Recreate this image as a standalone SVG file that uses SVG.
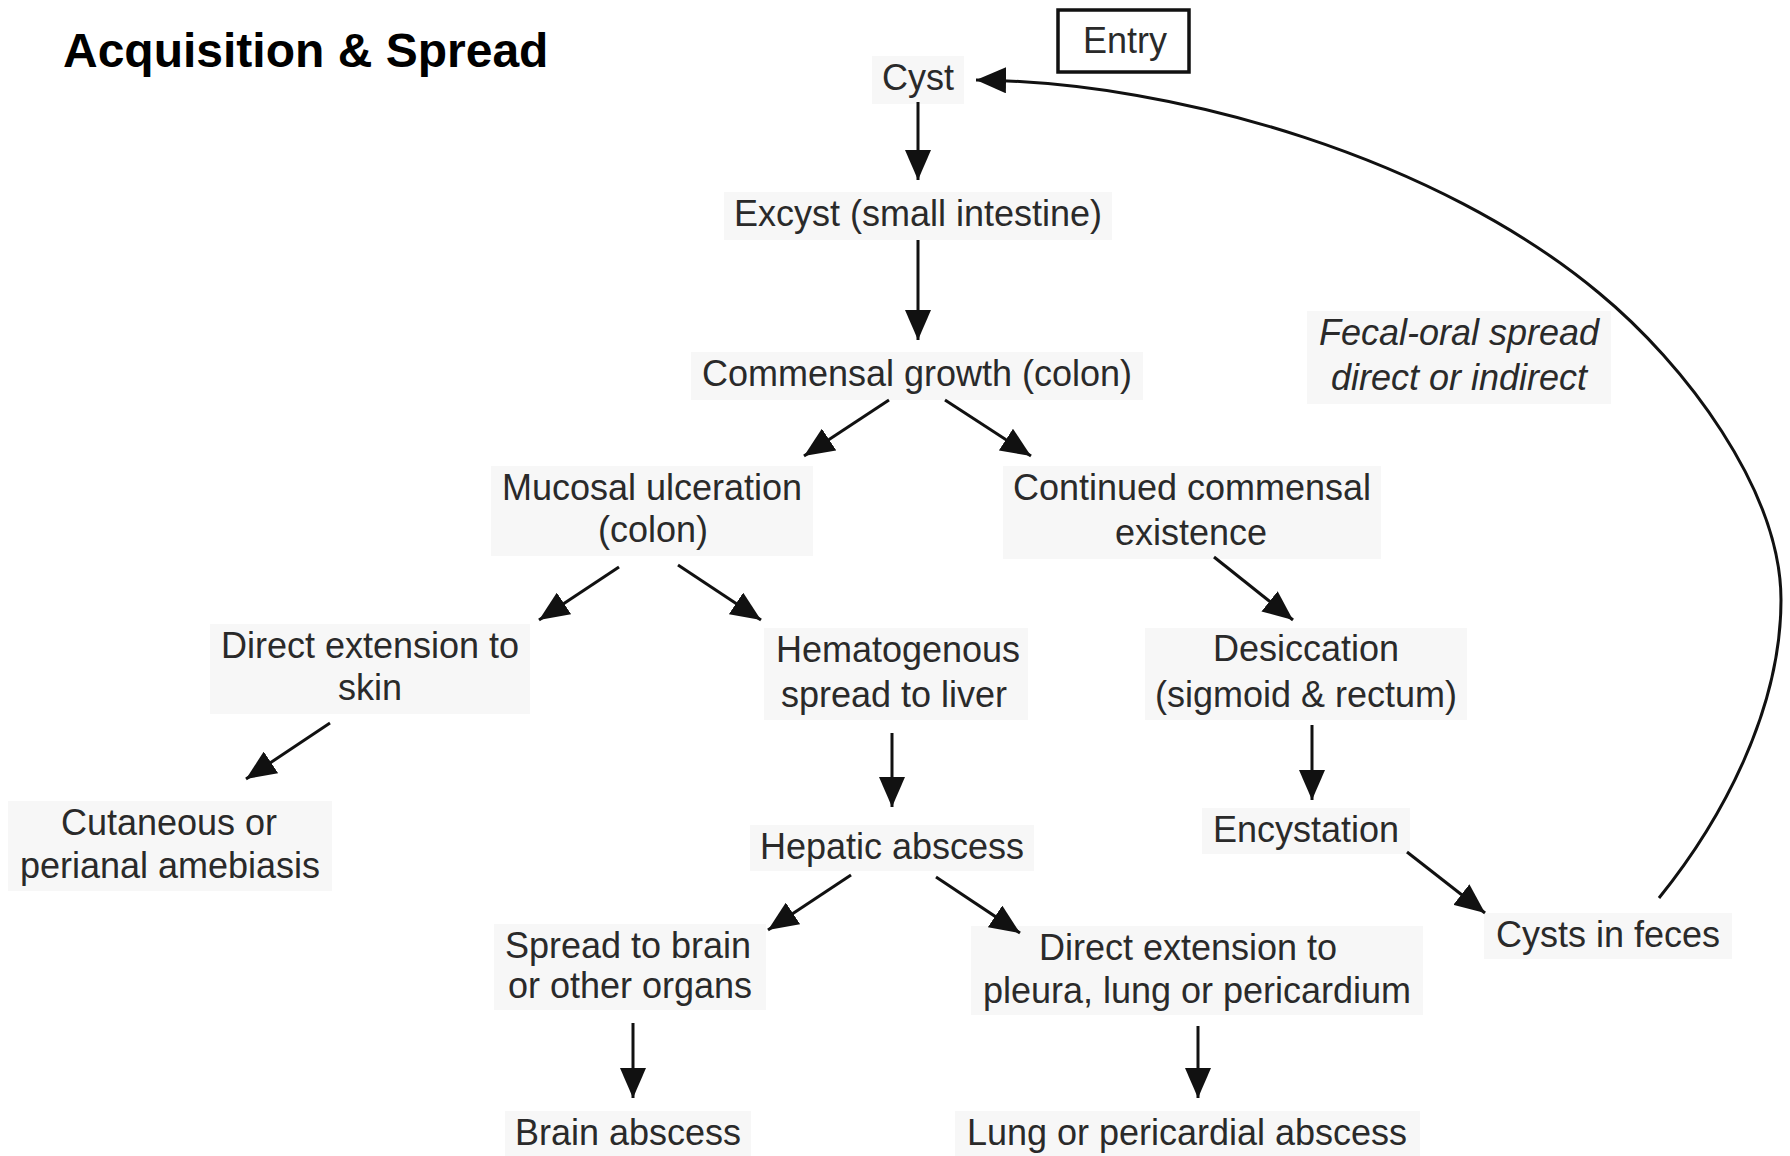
<svg xmlns="http://www.w3.org/2000/svg" width="1790" height="1156" viewBox="0 0 1790 1156">
<style>
  .t { font-family: "Liberation Sans", Arial, sans-serif; font-size: 36px; fill: #2a2a2a; text-anchor: middle; }
  .it { font-style: italic; }
  .halo { fill: #f7f7f7; }
  .ln { stroke: #111; stroke-width: 3; fill: none; marker-end: url(#ah); }
  .title { font-family: "Liberation Sans", Arial, sans-serif; font-size: 48px; font-weight: bold; fill: #000; }
</style>
<defs>
  <marker id="ah" markerUnits="userSpaceOnUse" markerWidth="30" markerHeight="26" viewBox="0 0 30 26" refX="30" refY="13" orient="auto">
    <path d="M0,0 L30,13 L0,26 z" fill="#111"/>
  </marker>
</defs>
<rect width="1790" height="1156" fill="#fff"/>

<text class="title" x="63" y="67">Acquisition &amp; Spread</text>

<g id="entry">
  <rect x="1058" y="10" width="131" height="62" fill="#fff" stroke="#111" stroke-width="3.5"/>
  <text class="t" x="1125" y="53">Entry</text>
</g>
<g id="cyst">
  <rect class="halo" x="872" y="56" width="92" height="48"/>
  <text class="t" x="918" y="90">Cyst</text>
</g>
<g id="excyst">
  <rect class="halo" x="724" y="192" width="388" height="48"/>
  <text class="t" x="918" y="226">Excyst (small intestine)</text>
</g>
<g id="commensal">
  <rect class="halo" x="691" y="352" width="452" height="48"/>
  <text class="t" x="917" y="386">Commensal growth (colon)</text>
</g>
<g id="mucosal">
  <rect class="halo" x="491" y="466" width="322" height="90"/>
  <text class="t" x="652" y="500">Mucosal ulceration</text>
  <text class="t" x="653" y="542">(colon)</text>
</g>
<g id="continued">
  <rect class="halo" x="1003" y="466" width="378" height="93"/>
  <text class="t" x="1192" y="500">Continued commensal</text>
  <text class="t" x="1191" y="545">existence</text>
</g>
<g id="fecal-oral-label">
  <rect class="halo" x="1307" y="311" width="304" height="93"/>
  <text class="t it" x="1459" y="345">Fecal-oral spread</text>
  <text class="t it" x="1459" y="390">direct or indirect</text>
</g>
<g id="direct-skin">
  <rect class="halo" x="210" y="624" width="320" height="90"/>
  <text class="t" x="370" y="658">Direct extension to</text>
  <text class="t" x="370" y="700">skin</text>
</g>
<g id="hematogenous">
  <rect class="halo" x="764" y="628" width="264" height="92"/>
  <text class="t" x="898" y="662">Hematogenous</text>
  <text class="t" x="894" y="707">spread to liver</text>
</g>
<g id="desiccation">
  <rect class="halo" x="1145" y="628" width="322" height="92"/>
  <text class="t" x="1306" y="661">Desiccation</text>
  <text class="t" x="1306" y="707">(sigmoid &amp; rectum)</text>
</g>
<g id="cutaneous">
  <rect class="halo" x="8" y="801" width="324" height="90"/>
  <text class="t" x="169" y="835">Cutaneous or</text>
  <text class="t" x="170" y="878">perianal amebiasis</text>
</g>
<g id="hepatic">
  <rect class="halo" x="750" y="825" width="284" height="46"/>
  <text class="t" x="892" y="859">Hepatic abscess</text>
</g>
<g id="encystation">
  <rect class="halo" x="1202" y="808" width="208" height="46"/>
  <text class="t" x="1306" y="842">Encystation</text>
</g>
<g id="cysts-feces">
  <rect class="halo" x="1484" y="913" width="248" height="46"/>
  <text class="t" x="1608" y="947">Cysts in feces</text>
</g>
<g id="spread-brain">
  <rect class="halo" x="494" y="924" width="272" height="86"/>
  <text class="t" x="628" y="958">Spread to brain</text>
  <text class="t" x="630" y="998">or other organs</text>
</g>
<g id="direct-pleura">
  <rect class="halo" x="971" y="926" width="452" height="89"/>
  <text class="t" x="1188" y="960">Direct extension to</text>
  <text class="t" x="1197" y="1003">pleura, lung or pericardium</text>
</g>
<g id="brain-abscess">
  <rect class="halo" x="505" y="1111" width="246" height="45"/>
  <text class="t" x="628" y="1145">Brain abscess</text>
</g>
<g id="lung-abscess">
  <rect class="halo" x="955" y="1111" width="465" height="45"/>
  <text class="t" x="1187" y="1145">Lung or pericardial abscess</text>
</g>

<g id="connectors">
  <line class="ln" x1="918" y1="102" x2="918" y2="180"/>
  <line class="ln" x1="918" y1="240" x2="918" y2="340"/>
  <line class="ln" x1="889" y1="400" x2="804" y2="456"/>
  <line class="ln" x1="945" y1="400" x2="1031" y2="456"/>
  <line class="ln" x1="619" y1="567" x2="539" y2="620"/>
  <line class="ln" x1="678" y1="565" x2="761" y2="620"/>
  <line class="ln" x1="1214" y1="557" x2="1293" y2="620"/>
  <line class="ln" x1="330" y1="723" x2="246" y2="779"/>
  <line class="ln" x1="892" y1="733" x2="892" y2="807"/>
  <line class="ln" x1="1312" y1="725" x2="1312" y2="800"/>
  <line class="ln" x1="1407" y1="852" x2="1485" y2="913"/>
  <line class="ln" x1="851" y1="875" x2="768" y2="930"/>
  <line class="ln" x1="936" y1="877" x2="1020" y2="933"/>
  <line class="ln" x1="633" y1="1023" x2="633" y2="1098"/>
  <line class="ln" x1="1198" y1="1026" x2="1198" y2="1098"/>
  <path class="ln" stroke-width="2.6" d="M1659,898 C1722,820 1781,710 1781,600 C1781,490 1684,363 1599,293 C1440,160 1180,82 976,80"/>
</g>
</svg>
